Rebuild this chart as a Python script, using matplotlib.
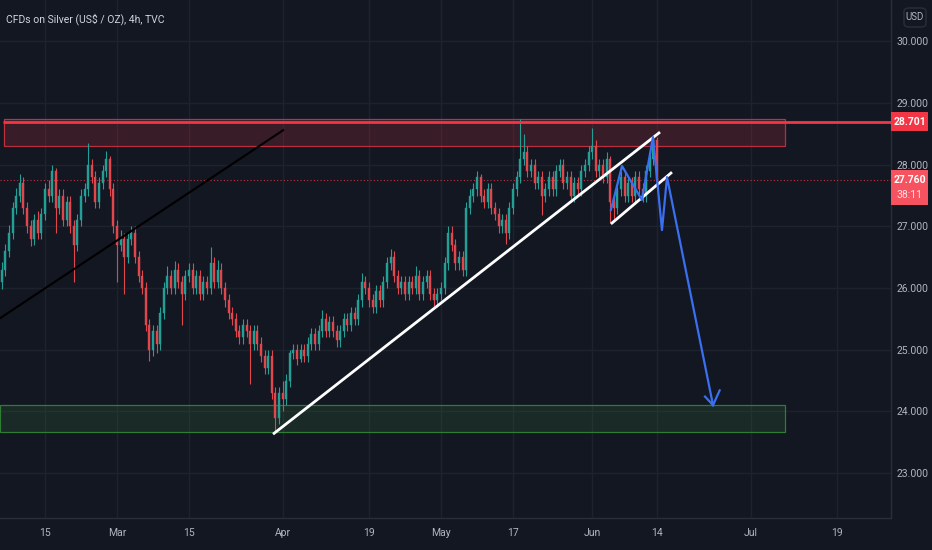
import matplotlib
matplotlib.use("Agg")
import matplotlib.pyplot as plt
import matplotlib.transforms as mtransforms
from matplotlib.patches import Rectangle, FancyBboxPatch

# ---------------- data ----------------
first_open = 26.10
closes = [
    26.30, 26.60, 26.90, 27.30, 27.50, 27.70, 27.30, 27.00, 26.80, 27.10,
    26.90, 27.20, 27.60, 27.50, 27.90, 27.30, 27.50, 27.10, 27.40, 27.00,
    26.70, 27.10, 27.50, 27.60, 28.00, 27.80, 27.40, 27.70, 27.90, 28.10,
    27.60, 27.00, 26.70, 26.80, 26.50, 26.80, 26.90, 26.50, 26.20, 26.00,
    25.40, 25.00, 25.30, 25.10, 25.60, 26.00, 26.20, 26.00, 26.30, 26.10,
    25.90, 26.20, 26.30, 26.00, 26.20, 25.90, 26.10, 26.00, 26.40, 26.10,
    26.30, 26.00, 25.80, 25.60, 25.50, 25.30, 25.20, 25.40, 25.30, 25.10,
    25.30, 25.10, 24.90, 24.70, 24.90, 24.30, 23.90, 24.30, 24.20, 24.50,
    24.95, 25.00, 24.85, 25.00, 24.90, 25.10, 25.25, 25.10, 25.30, 25.50,
    25.30, 25.45, 25.30, 25.15, 25.30, 25.50, 25.40, 25.60, 25.50, 25.80,
    26.10, 26.00, 25.80, 25.70, 25.95, 25.80, 26.10, 26.40, 26.50, 26.20,
    26.00, 26.10, 25.90, 26.10, 26.00, 26.20, 25.90, 26.10, 26.20, 25.90,
    25.80, 25.90, 26.00, 26.40, 26.90, 26.70, 26.40, 26.50, 26.30, 27.30,
    27.50, 27.60, 27.80, 27.50, 27.40, 27.60, 27.30, 27.20, 27.00, 27.10,
    26.90, 27.30, 27.60, 27.80, 28.10, 28.20, 27.90, 28.00, 27.70, 27.80,
    27.50, 27.60, 27.80, 27.60, 27.90, 28.00, 27.70, 27.80, 27.50, 27.70,
    27.60, 27.90, 28.00, 28.20, 28.30, 27.90, 28.00, 27.80, 28.10, 27.40,
    27.30, 27.60, 27.80, 27.50, 27.70, 27.50, 27.80, 27.60, 27.50, 27.90,
    28.10, 28.40, 27.76,
]
highs = [
    26.42, 26.72, 27.02, 27.40, 27.62, 27.85, 27.80, 27.40, 27.10, 27.20,
    27.25, 27.30, 27.70, 27.75, 28.00, 27.95, 27.60, 27.60, 27.50, 27.50,
    27.10, 27.20, 27.60, 27.70, 28.35, 28.10, 27.90, 27.80, 28.00, 28.22,
    28.15, 27.70, 27.10, 26.95, 26.90, 26.90, 27.00, 27.00, 26.60, 26.30,
    26.10, 25.50, 25.40, 25.40, 25.70, 26.10, 26.35, 26.30, 26.44, 26.40,
    26.20, 26.30, 26.40, 26.40, 26.30, 26.30, 26.20, 26.20, 26.67, 26.50,
    26.45, 26.40, 26.10, 25.90, 25.70, 25.60, 25.40, 25.50, 25.50, 25.40,
    25.40, 25.40, 25.20, 25.00, 25.00, 25.00, 24.40, 24.40, 24.50, 24.60,
    25.00, 25.10, 25.10, 25.10, 25.10, 25.20, 25.35, 25.35, 25.40, 25.65,
    25.60, 25.55, 25.55, 25.40, 25.40, 25.60, 25.60, 25.70, 25.70, 25.90,
    26.25, 26.20, 26.10, 25.90, 26.05, 26.05, 26.20, 26.50, 26.63, 26.60,
    26.30, 26.20, 26.20, 26.20, 26.20, 26.35, 26.30, 26.20, 26.30, 26.30,
    26.00, 26.00, 26.10, 26.50, 27.00, 27.00, 26.80, 26.60, 26.60, 27.40,
    27.60, 27.70, 27.90, 27.85, 27.60, 27.70, 27.70, 27.40, 27.30, 27.20,
    27.20, 27.40, 27.70, 27.90, 28.75, 28.50, 28.30, 28.10, 28.10, 27.90,
    27.90, 27.70, 27.90, 27.90, 28.00, 28.10, 28.10, 27.90, 27.90, 27.80,
    27.80, 28.00, 28.10, 28.30, 28.59, 28.40, 28.10, 28.10, 28.20, 28.15,
    27.50, 27.70, 27.90, 27.90, 27.80, 27.80, 27.90, 27.90, 27.70, 28.00,
    28.20, 28.46, 28.45,
]
lows = [
    25.98, 26.20, 26.50, 26.80, 27.20, 27.40, 27.20, 26.90, 26.68, 26.70,
    26.80, 26.80, 27.10, 27.40, 27.40, 26.90, 27.20, 27.00, 27.00, 26.90,
    26.10, 26.60, 27.00, 27.40, 27.50, 27.70, 27.30, 27.30, 27.60, 27.80,
    27.50, 26.90, 26.10, 26.60, 25.90, 26.40, 26.70, 26.40, 26.10, 25.90,
    25.30, 24.82, 24.90, 24.95, 25.00, 25.50, 25.90, 25.90, 25.90, 26.00,
    25.40, 25.80, 26.10, 25.90, 25.90, 25.80, 25.80, 25.90, 25.90, 26.00,
    26.00, 25.90, 25.70, 25.50, 25.40, 25.20, 25.10, 25.10, 25.20, 24.45,
    25.00, 25.00, 24.80, 24.60, 24.60, 24.20, 23.66, 23.80, 24.00, 24.10,
    24.40, 24.85, 24.75, 24.80, 24.80, 24.80, 25.00, 25.00, 25.00, 25.20,
    25.20, 25.20, 25.20, 25.05, 25.05, 25.20, 25.30, 25.30, 25.40, 25.40,
    25.70, 25.90, 25.70, 25.60, 25.60, 25.70, 25.70, 26.00, 26.30, 26.10,
    25.90, 25.90, 25.80, 25.80, 25.90, 25.90, 25.80, 25.80, 26.00, 25.80,
    25.70, 25.70, 25.80, 25.90, 26.30, 26.60, 26.30, 26.30, 26.20, 26.20,
    27.20, 27.40, 27.50, 27.40, 27.30, 27.30, 27.20, 27.10, 26.90, 26.90,
    26.72, 26.80, 27.20, 27.50, 27.70, 28.00, 27.80, 27.80, 27.60, 27.60,
    27.19, 27.40, 27.50, 27.50, 27.50, 27.80, 27.60, 27.60, 27.40, 27.40,
    27.50, 27.50, 27.80, 27.90, 28.10, 27.80, 27.80, 27.70, 27.70, 27.05,
    27.10, 27.20, 27.50, 27.40, 27.40, 27.40, 27.40, 27.50, 27.40, 27.40,
    27.80, 28.00, 27.70,
]
# trading-day position of first candle (0 = Mar 1), two candles per day
first_day = -16.0
bars_per_day = 2

tick_days = [-10, 0, 10, 23, 35, 45, 55, 66, 75, 88, 100]
tick_labels = ["15", "Mar", "15", "Apr", "19", "May", "17", "Jun", "14", "Jul", "19"]
price_ticks = [23, 24, 25, 26, 27, 28, 29, 30]

resistance_zone = (28.30, 28.74)
support_zone = (23.67, 24.11)
zone_days = (-15.7, 92.8)
resistance_line = 28.701
last_price = 27.760
countdown = "38:11"

black_line_x = [-16.25, 23.06]
black_line_y = [25.51, 28.56]
trend_x = [21.67, 75.42]
trend_y = [23.63, 28.53]
channel_x = [68.6, 77.08]
channel_y = [27.04, 27.88]
blue_x = [68.6, 70.14, 72.9, 74.44, 75.69, 76.39, 82.78]
blue_y = [27.27, 27.98, 27.43, 28.45, 26.94, 27.80, 24.10]
arrow_tip = (82.78, 24.10)
arrow_arms = [(81.67, 24.24), (83.70, 24.34)]

title = "CFDs on Silver (US$ / OZ), 4h, TVC"

# ---------------- style ----------------
BG = "#131722"
GRID = "#1e222d"
AXC = "#2a2e39"
TXT = "#b2b5be"
UP = "#22a095"
DOWN = "#e0474c"
RED = "#f23645"
FONT = ["Roboto", "DejaVu Sans"]
plt.rcParams["font.family"] = FONT

W, H = 932, 550
fig = plt.figure(figsize=(W / 100, H / 100), dpi=100, facecolor=BG)
ax = fig.add_axes([0, 32 / H, 891 / W, 518 / H], facecolor=BG)
ax.set_xlim(-16.25, 107.5)
ax.set_ylim(22.27, 30.673)

# grid
ax.set_xticks(tick_days)
ax.set_xticklabels(tick_labels)
ax.set_yticks(price_ticks)
ax.set_yticklabels([f"{p:.3f}" for p in price_ticks])
ax.yaxis.tick_right()
ax.grid(True, color=GRID, lw=1)
ax.set_axisbelow(True)
ax.tick_params(axis="x", length=0, pad=7, labelsize=7.5, colors=TXT)
ax.tick_params(axis="y", length=0, pad=4, labelsize=7.5, colors=TXT)
for s in ["top", "left"]:
    ax.spines[s].set_visible(False)
for s in ["right", "bottom"]:
    ax.spines[s].set_color(AXC)
    ax.spines[s].set_linewidth(1)

# zones
ax.add_patch(Rectangle((zone_days[0], resistance_zone[0]), zone_days[1] - zone_days[0],
                       resistance_zone[1] - resistance_zone[0],
                       facecolor=RED, alpha=0.17, edgecolor="none", zorder=1))
ax.add_patch(Rectangle((zone_days[0], resistance_zone[0]), zone_days[1] - zone_days[0],
                       resistance_zone[1] - resistance_zone[0],
                       facecolor="none", edgecolor=RED, lw=0.9, alpha=0.75, zorder=1.5))
ax.add_patch(Rectangle((-16.25, support_zone[0]), zone_days[1] + 16.25,
                       support_zone[1] - support_zone[0],
                       facecolor="#43a047", alpha=0.14, edgecolor="none", zorder=1))
ax.add_patch(Rectangle((-16.25, support_zone[0]), zone_days[1] + 16.25,
                       support_zone[1] - support_zone[0],
                       facecolor="none", edgecolor="#2e7d32", lw=0.9, zorder=1.5))

# candles
opens = [first_open] + closes[:-1]
xs = [first_day + i / bars_per_day for i in range(len(closes))]
for x, o, h, l, c in zip(xs, opens, highs, lows, closes):
    col = UP if c >= o else DOWN
    ax.vlines(x, l, h, color=col, lw=0.8, zorder=2)
    ax.bar(x, max(abs(c - o), 0.02), bottom=min(o, c), width=0.28,
           color=col, edgecolor=col, lw=0.3, zorder=2.5)

# horizontal lines
ax.hlines(resistance_line, -15.9, 107.5, color=RED, lw=2, zorder=3)
ax.axhline(last_price, color=RED, lw=0.8, ls=(0, (1, 2)), alpha=0.8, zorder=1.2)

# drawings
ax.plot(black_line_x, black_line_y, color="black", lw=1.5, zorder=4)
ax.plot(trend_x, trend_y, color="white", lw=2, zorder=4, solid_capstyle="butt")
ax.plot(channel_x, channel_y, color="white", lw=2, zorder=4, solid_capstyle="butt")
ax.plot(blue_x, blue_y, color="#3a6ff0", lw=1.6, zorder=5)
for ax_, ay_ in arrow_arms:
    ax.plot([arrow_tip[0], ax_], [arrow_tip[1], ay_], color="#3a6ff0", lw=1.6, zorder=5)

# right-axis price labels
bt = mtransforms.blended_transform_factory(ax.transAxes, ax.transData)
bw = 37 / 891
ax.add_patch(Rectangle((1.0, resistance_line - 0.155), bw, 0.31, transform=bt,
                       facecolor=RED, edgecolor="none", clip_on=False, zorder=6))
ax.text(1.0 + bw / 2, resistance_line, f"{resistance_line:.3f}", transform=bt,
        ha="center", va="center", color="white", fontsize=7.5, fontweight="bold",
        clip_on=False, zorder=7)
ax.add_patch(Rectangle((1.0, 27.35), bw, 0.565, transform=bt,
                       facecolor="#f7525f", edgecolor="none", clip_on=False, zorder=6))
ax.text(1.0 + bw / 2, last_price, f"{last_price:.3f}", transform=bt,
        ha="center", va="center", color="white", fontsize=7.5, fontweight="bold",
        clip_on=False, zorder=7)
ax.text(1.0 + bw / 2, 27.51, countdown, transform=bt,
        ha="center", va="center", color="#ffe0e3", fontsize=7.5,
        clip_on=False, zorder=7)

# USD button and title
fig.patches.append(FancyBboxPatch((904 / W, (H - 27) / H), 22 / W, 19 / H,
                                  boxstyle="round,pad=0,rounding_size=0.006",
                                  transform=fig.transFigure, facecolor=BG,
                                  edgecolor="#2a2e39", lw=1))
fig.text(915 / W, (H - 17.5) / H, "USD", ha="center", va="center", color=TXT, fontsize=7)
fig.text(6 / W, (H - 19) / H, title, ha="left", va="center", color="#d1d4dc", fontsize=7.5)

fig.savefig("out.png", dpi=100, facecolor=BG)
